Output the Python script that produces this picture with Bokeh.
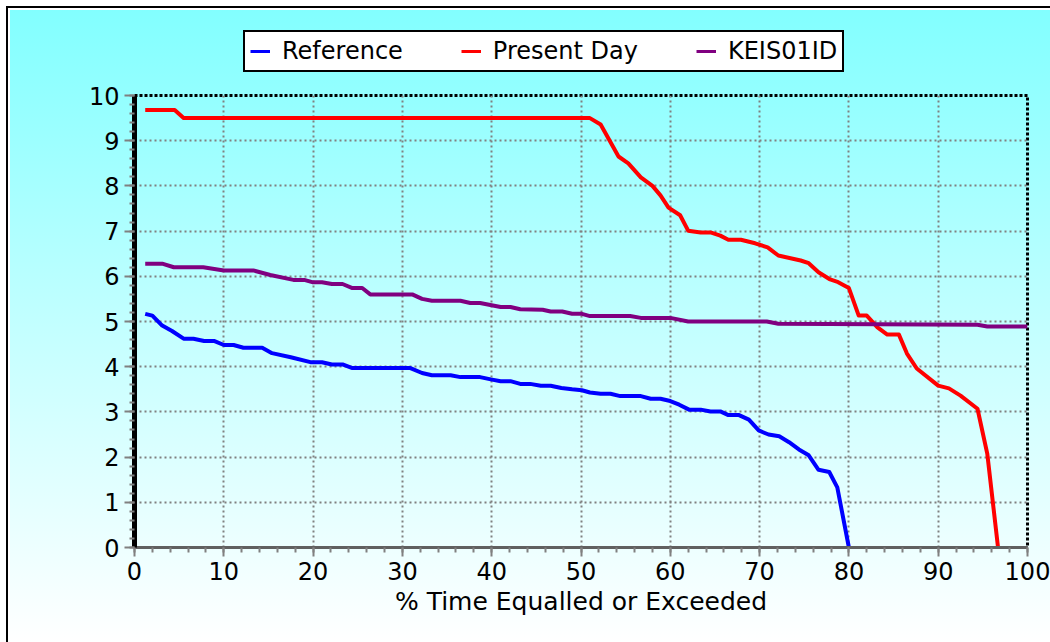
from bokeh.plotting import figure
from bokeh.layouts import column
from bokeh.models import Legend, LegendItem, FixedTicker, Range1d
from bokeh.embed import file_html
from bokeh.resources import INLINE

# ---- data ----
x_ticks = [0, 10, 20, 30, 40, 50, 60, 70, 80, 90, 100]
y_ticks = [0, 1, 2, 3, 4, 5, 6, 7, 8, 9, 10]

ref_x = [1.2, 2.0, 3.1, 4.2, 5.5, 6.6, 7.8, 8.9, 10.0, 11.1, 12.2, 14.3, 15.4, 17.5, 19.7,
         21.0, 22.1, 23.3, 24.4, 30.9, 32.2, 33.3, 35.4, 36.5, 38.7, 39.9, 41.0, 42.1, 43.2,
         44.3, 45.5, 46.6, 47.8, 49.0, 50.1, 51.0, 52.2, 53.3, 54.4, 56.7, 57.8, 58.9, 60.0,
         61.0, 62.1, 63.4, 64.5, 65.6, 66.5, 67.7, 68.8, 69.9, 71.0, 72.2, 73.3, 74.4, 75.5,
         76.6, 77.8, 78.7, 80.0]
ref_y = [5.17, 5.13, 4.91, 4.79, 4.62, 4.62, 4.57, 4.57, 4.48, 4.48, 4.42, 4.42, 4.30, 4.21, 4.10,
         4.10, 4.05, 4.05, 3.97, 3.97, 3.86, 3.81, 3.81, 3.77, 3.77, 3.72, 3.68, 3.68, 3.62,
         3.62, 3.58, 3.58, 3.53, 3.50, 3.48, 3.43, 3.40, 3.40, 3.35, 3.35, 3.29, 3.29, 3.24,
         3.16, 3.05, 3.05, 3.01, 3.01, 2.93, 2.93, 2.83, 2.59, 2.50, 2.46, 2.33, 2.17, 2.04,
         1.72, 1.67, 1.33, 0.0]

pd_x = [1.2, 4.5, 5.5, 51.0, 52.2, 54.2, 55.3, 56.7, 58.0, 58.9, 59.8, 61.1, 62.0, 63.4, 64.5,
        65.6, 66.5, 67.9, 69.5, 70.9, 72.1, 74.6, 75.5, 76.6, 77.9, 78.8, 80.0, 81.1, 82.0, 83.2,
        84.3, 85.6, 86.5, 87.6, 90.0, 91.2, 92.5, 94.4, 95.5, 96.7]
pd_y = [9.68, 9.68, 9.5, 9.5, 9.36, 8.65, 8.5, 8.19, 8.0, 7.79, 7.52, 7.35, 7.01, 6.97, 6.97,
        6.9, 6.81, 6.81, 6.73, 6.64, 6.46, 6.35, 6.29, 6.09, 5.93, 5.87, 5.74, 5.13, 5.13, 4.87,
        4.71, 4.71, 4.29, 3.96, 3.58, 3.52, 3.36, 3.07, 2.07, 0.0]

ke_x = [1.2, 3.1, 4.4, 7.7, 10.0, 13.3, 15.2, 17.8, 19.0, 19.9, 21.0, 22.1, 23.3, 24.4, 25.5,
        26.4, 31.1, 32.2, 33.3, 36.5, 37.6, 38.7, 41.0, 42.1, 43.2, 45.7, 46.6, 47.9, 49.0, 50.1,
        51.0, 55.5, 56.7, 60.0, 62.0, 70.8, 72.1, 94.4, 95.5, 100]
ke_y = [6.28, 6.28, 6.2, 6.2, 6.13, 6.13, 6.03, 5.92, 5.92, 5.87, 5.87, 5.83, 5.83, 5.74, 5.74,
        5.6, 5.6, 5.50, 5.46, 5.46, 5.41, 5.41, 5.32, 5.32, 5.27, 5.26, 5.22, 5.22, 5.17, 5.17,
        5.12, 5.12, 5.08, 5.08, 5.0, 5.0, 4.95, 4.93, 4.89, 4.89]

series_names = ["Reference", "Present Day", "KEIS01ID"]
series_colors = ["#0000FF", "#FF0000", "#800080"]
series_x = [ref_x, pd_x, ke_x]
series_y = [ref_y, pd_y, ke_y]
x_label = "% Time Equalled or Exceeded"

FONT = "DejaVu Sans"
W = 1050
TOP_H = 75

# ---- legend strip (top); its frame is aligned with the chart's frame by the column ----
pt = figure(width=W, height=TOP_H, output_backend="svg", toolbar_location=None,
            x_range=Range1d(1000, 1001), y_range=Range1d(1000, 1001),
            x_axis_location=None, y_axis_location=None,
            min_border_left=134, min_border_right=23, min_border_top=0, min_border_bottom=0,
            background_fill_color=None, border_fill_color=None, outline_line_color=None)
pt.grid.visible = False
items = []
for name, col, xs, ys in zip(series_names, series_colors, series_x, series_y):
    rr = pt.line(xs, ys, line_color=col, line_width=3)
    items.append(LegendItem(label=name, renderers=[rr]))
legend = Legend(items=items, orientation="horizontal", location=(109, 3),
                label_text_font=FONT, label_text_font_size="24px", label_text_color="black",
                glyph_width=20, glyph_height=20, label_standoff=12, spacing=58,
                padding=5, margin=0,
                background_fill_color="white", background_fill_alpha=1.0,
                border_line_color="black", border_line_width=2, border_line_alpha=1.0)
pt.add_layout(legend, "center")

# ---- main chart ----
p = figure(width=W, height=642 - TOP_H, output_backend="svg", toolbar_location=None,
           x_range=Range1d(0, 100), y_range=Range1d(0, 10),
           min_border_left=134, min_border_right=23, min_border_top=20, min_border_bottom=95,
           background_fill_color=None, border_fill_color=None)

for g in (p.xgrid, p.ygrid):
    g.grid_line_color = "#808080"
    g.grid_line_width = 2
    g.grid_line_dash = "2 3"
p.xaxis.ticker = FixedTicker(ticks=x_ticks, minor_ticks=[t for t in range(0, 101, 2)])
p.yaxis.ticker = FixedTicker(ticks=y_ticks, minor_ticks=[t / 5 for t in range(0, 51)])

p.outline_line_color = "black"
p.outline_line_width = 3
p.outline_line_dash = "3 2"

for ax in (p.xaxis, p.yaxis):
    ax.major_tick_line_color = "#808080"
    ax.major_tick_line_width = 2
    ax.minor_tick_line_color = "#808080"
    ax.minor_tick_line_width = 2
    ax.major_tick_in = 0
    ax.minor_tick_in = 0
    ax.major_label_text_font = FONT
    ax.major_label_text_font_size = "24px"
    ax.major_label_text_color = "black"
    ax.axis_label_text_font = FONT
    ax.axis_label_text_font_style = "normal"
    ax.axis_label_text_font_size = "25px"
    ax.axis_label_text_color = "black"

p.xaxis.major_tick_out = 9
p.xaxis.minor_tick_out = 5
p.xaxis.major_label_standoff = 5
p.xaxis.axis_line_color = "#606060"
p.xaxis.axis_line_width = 3
p.xaxis.axis_label = x_label
p.xaxis.axis_label_standoff = 4

p.yaxis.major_tick_out = 10
p.yaxis.minor_tick_out = 5
p.yaxis.major_label_standoff = 5
p.yaxis.axis_line_color = "black"
p.yaxis.axis_line_width = 5

for col, xs, ys in zip(series_colors, series_x, series_y):
    p.line(xs, ys, line_color=col, line_width=4, line_join="round")

layout = column(pt, p, spacing=0,
                styles={"background": "linear-gradient(to bottom, #80ffff 0%, #c8ffff 55%, #ffffff 100%)",
                        "box-shadow": "inset 6px 6px 0 0 white, inset 8px 8px 0 0 black, inset 10px 10px 0 0 white"})

open("out.html", "w").write(file_html(layout, INLINE))
